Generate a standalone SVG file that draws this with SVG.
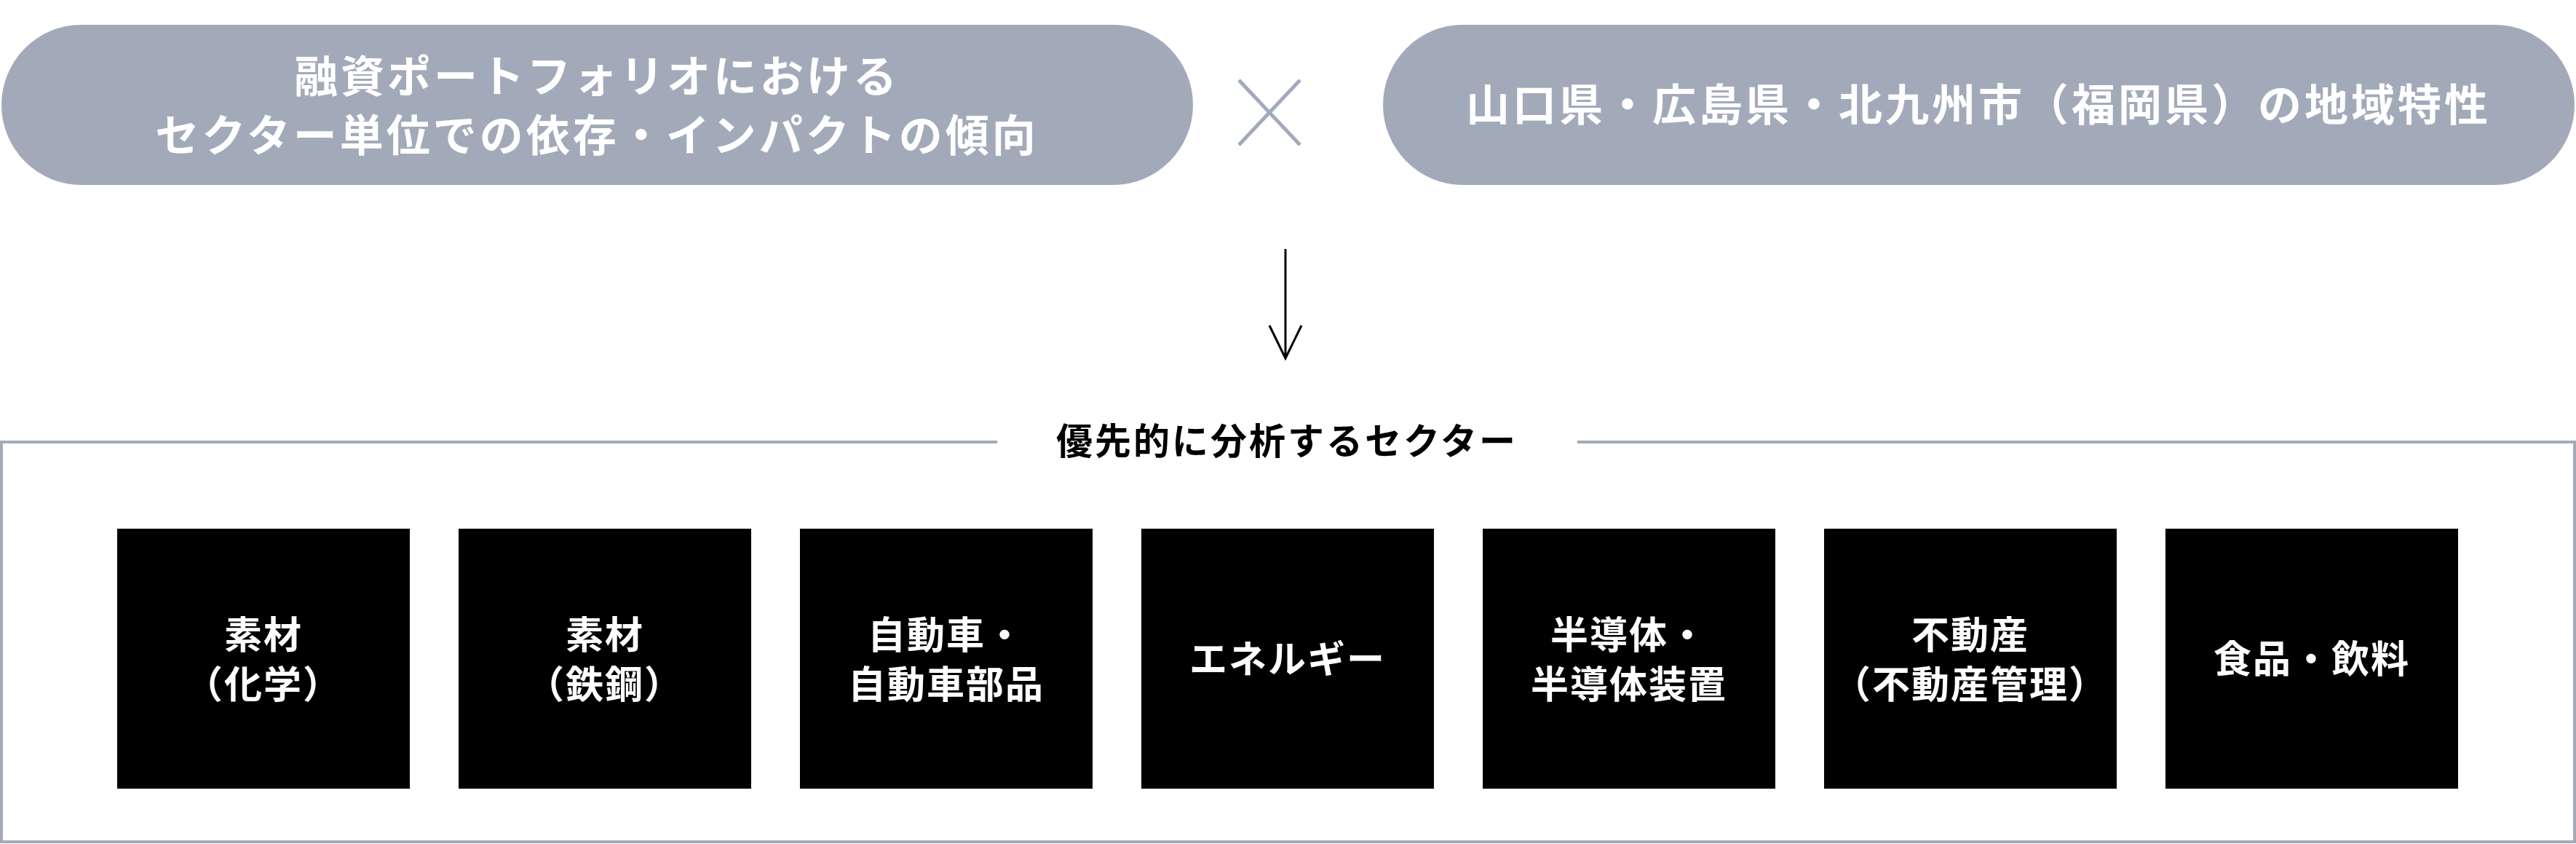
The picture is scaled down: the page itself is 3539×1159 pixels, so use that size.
<svg xmlns="http://www.w3.org/2000/svg" width="3539" height="1159" viewBox="0 0 3539 1159">
<style>
text{font-family:"Noto Sans CJK JP","Noto Sans",sans-serif;font-weight:bold;text-anchor:middle}
.p{fill:#a2aaba}.pt{fill:#fff;font-size:60px;letter-spacing:4px}
.b{fill:#000}.bt{fill:#fff;font-size:52px;letter-spacing:2px}
.ln{stroke:#a2aaba;stroke-width:4;fill:none}
</style>
<rect width="3539" height="1159" fill="#fff"/>
<g id="pill-left"><rect class="p" x="2" y="34" width="1637" height="220" rx="110"/>
<text class="pt" x="820" y="127">融資ポートフォリオにおける</text>
<text class="pt" x="820" y="208">セクター単位での依存・インパクトの傾向</text></g>
<g id="cross"><path d="M1702,110 L1786,199 M1786,110 L1702,199" stroke="#a2aaba" stroke-width="5"/></g>
<g id="pill-right"><rect class="p" x="1900" y="34" width="1637" height="220" rx="110"/>
<text class="pt" x="2718" y="166">山口県・広島県・北九州市（福岡県）の地域特性</text></g>
<g id="connectors"><path d="M1766,342 V492 M1744,447 L1766,492 L1788,447" stroke="#000" stroke-width="3" fill="none"/></g>
<g id="frame"><path class="ln" d="M1370,607 H2 V1156 H3537 V607 H2167"/>
<text x="1768" y="624" font-size="50" fill="#000" letter-spacing="3">優先的に分析するセクター</text></g>
<g id="s1"><rect class="b" x="161" y="726" width="402" height="357"/><text class="bt" x="362" y="891">素材</text><text class="bt" x="362" y="959">（化学）</text></g>
<g id="s2"><rect class="b" x="630" y="726" width="402" height="357"/><text class="bt" x="831" y="891">素材</text><text class="bt" x="831" y="959">（鉄鋼）</text></g>
<g id="s3"><rect class="b" x="1099" y="726" width="402" height="357"/><text class="bt" x="1300" y="891">自動車・</text><text class="bt" x="1300" y="959">自動車部品</text></g>
<g id="s4"><rect class="b" x="1568" y="726" width="402" height="357"/><text class="bt" x="1769" y="924">エネルギー</text></g>
<g id="s5"><rect class="b" x="2037" y="726" width="402" height="357"/><text class="bt" x="2238" y="891">半導体・</text><text class="bt" x="2238" y="959">半導体装置</text></g>
<g id="s6"><rect class="b" x="2506" y="726" width="402" height="357"/><text class="bt" x="2707" y="891">不動産</text><text class="bt" x="2707" y="959">（不動産管理）</text></g>
<g id="s7"><rect class="b" x="2975" y="726" width="402" height="357"/><text class="bt" x="3176" y="924">食品・飲料</text></g>
</svg>
